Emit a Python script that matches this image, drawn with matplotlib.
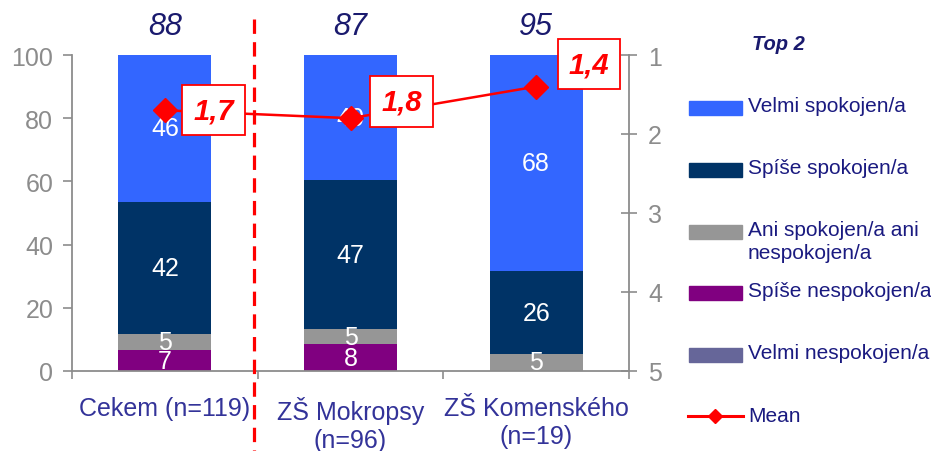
import matplotlib
matplotlib.use('Agg')
import matplotlib.pyplot as plt
import matplotlib.transforms as mtransforms
from matplotlib.patches import Rectangle
from matplotlib.lines import Line2D

plt.rcParams['font.family'] = ['Liberation Sans', 'DejaVu Sans']

# ---------------- data ----------------
categories = ['Cekem (n=119)', 'ZŠ Mokropsy\n(n=96)', 'ZŠ Komenského\n(n=19)']
series_names = ['Velmi nespokojen/a', 'Spíše nespokojen/a',
                'Ani spokojen/a ani\nnespokojen/a', 'Spíše spokojen/a',
                'Velmi spokojen/a']
velmi_nespokojen = [0.0, 0.0, 0.0]
spise_nespokojen = [6.6, 8.4, 0.0]
ani_ani = [5.0, 5.0, 5.4]
spise_spokojen = [42.0, 46.9, 26.2]
velmi_spokojen = [46.4, 39.7, 68.4]
top2 = [88, 87, 95]
means = [1.7, 1.8, 1.4]
mean_labels = ['1,7', '1,8', '1,4']
left_ticks = [0, 20, 40, 60, 80, 100]
right_ticks = [1, 2, 3, 4, 5]

series_values = [velmi_nespokojen, spise_nespokojen, ani_ani,
                 spise_spokojen, velmi_spokojen]
series_colors = ['#666699', '#800080', '#969696', '#003366', '#3366FF']

GRAY = '#8c8c8c'
NAVY = '#1a1a80'
RED = '#FF0000'

fig = plt.figure(figsize=(9.31, 4.52), dpi=100)
W, H = 931, 452
ax = fig.add_axes([72 / W, 1 - 372 / H, (629 - 72) / W, (372 - 56) / H])

x = list(range(len(categories)))
bottoms = [0.0] * len(categories)
for vals, col in zip(series_values, series_colors):
    ax.bar(x, vals, bottom=bottoms, width=0.5, color=col, zorder=2)
    for i, v in enumerate(vals):
        if v >= 3:
            ax.text(i, bottoms[i] + v / 2, str(int(v + 0.5)), ha='center',
                    va='center', color='white', fontsize=18, zorder=3)
    bottoms = [b + v for b, v in zip(bottoms, vals)]

ax.set_xlim(-0.5, 2.5)
ax.set_ylim(0, 100)
ax.set_yticks(left_ticks)
ax.tick_params(axis='y', colors=GRAY, labelsize=18, length=6.5, width=1.2,
               pad=7)
ax.set_xticks(x)
ax.set_xticklabels(categories, fontsize=18, color='#333399',
                   linespacing=1.2)
ax.tick_params(axis='x', which='major', length=0, pad=18)
ax.set_xticks([-0.5, 0.5, 1.5, 2.5], minor=True)
ax.tick_params(axis='x', which='minor', length=6, width=1.2, color=GRAY,
               direction='out')
for s in ['top', 'right']:
    ax.spines[s].set_visible(False)
for s in ['left', 'bottom']:
    ax.spines[s].set_color(GRAY)
    ax.spines[s].set_linewidth(1.3)

trans = mtransforms.blended_transform_factory(ax.transData, ax.transAxes)

# top-2 labels
for i, t in enumerate(top2):
    ax.text(i, 1.092, str(t), transform=trans, ha='center', va='center',
            fontsize=22, style='italic', color='#1a1a6e')

# dashed separator
ax.plot([0.48, 0.48], [1.114, -0.253], transform=trans, clip_on=False,
        color=RED, lw=2.3, linestyle=(0, (4.5, 2.6)), zorder=5)

# mean on secondary axis
ax2 = ax.twinx()
ax2.set_ylim(5, 1)
ax2.set_yticks(right_ticks)
ax2.tick_params(axis='y', colors=GRAY, labelsize=18, length=11.5,
                width=1.2, direction='inout', pad=8)
for s in ['top', 'left', 'bottom']:
    ax2.spines[s].set_visible(False)
ax2.spines['right'].set_color(GRAY)
ax2.spines['right'].set_linewidth(1.3)
ax2.plot(x, means, color=RED, lw=1.8, marker='D', markersize=12, zorder=6)
offsets = [(35, 0), (37, 12), (38, 16)]
for i, (m, lab) in enumerate(zip(means, mean_labels)):
    ax2.annotate(lab, (i, m), xytext=offsets[i], textcoords='offset points',
                 ha='center', va='center', fontsize=21, fontweight='bold',
                 style='italic', color=RED, zorder=7,
                 bbox=dict(boxstyle='square,pad=0.38', fc='white', ec=RED,
                           lw=1.3))

# legend (drawn manually in figure coordinates)
fig.text(778 / W, 1 - 45 / H, 'Top 2', ha='center', va='center',
         fontsize=14.5, fontweight='bold', style='italic', color='#1a1a6e')
legend_y = [109, 171, 233, 294, 356]
legend_order = [4, 3, 2, 1, 0]
for yy, idx in zip(legend_y, legend_order):
    fig.add_artist(Rectangle((689 / W, 1 - (yy + 7) / H), 53 / W, 14 / H,
                             transform=fig.transFigure,
                             color=series_colors[idx]))
    fig.text(748 / W, 1 - (yy - 12) / H, series_names[idx], ha='left',
             va='top', fontsize=15, color=NAVY, linespacing=1.25)
fig.add_artist(Line2D([688 / W, 743 / W], [1 - 417 / H, 1 - 417 / H],
                      transform=fig.transFigure, color=RED, lw=2.2))
fig.add_artist(Line2D([715 / W], [1 - 417 / H], transform=fig.transFigure,
                      color=RED, marker='D', markersize=7))
fig.text(748 / W, 1 - 417 / H, 'Mean', ha='left', va='center',
         fontsize=15, color=NAVY)

fig.savefig('out.png', dpi=100)
